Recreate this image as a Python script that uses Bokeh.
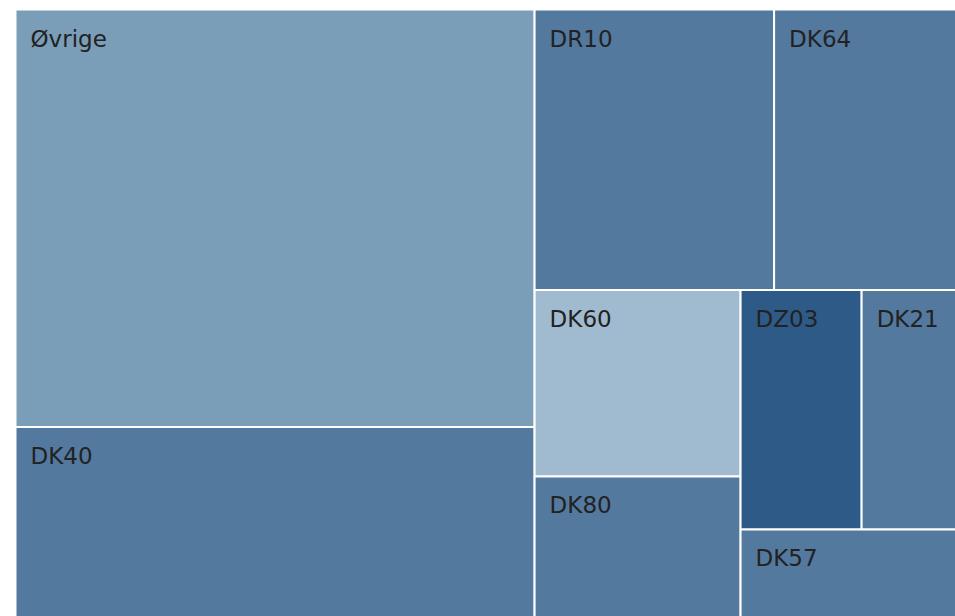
from bokeh.plotting import figure
from bokeh.models import ColumnDataSource, Range1d
from bokeh.core.properties import value
from bokeh.embed import file_html
from bokeh.resources import INLINE

# ---- data ----
categories = ["Øvrige", "DK40", "DR10", "DK64", "DK60", "DK80", "DZ03", "DK21", "DK57"]
values = [215500, 98420, 66800, 50870, 38220, 28900, 28850, 22610, 18900]
colors = ["#7a9db8", "#54799f", "#54799f", "#54799f", "#a0bbd0", "#54799f", "#2e5a87", "#54799f", "#54799f"]

W, H = 955, 616
PHI = (1 + 5 ** 0.5) / 2


def squarify(vals, x0, y0, x1, y1, ratio=PHI):
    """d3.treemapSquarify (golden ratio) layout."""
    n = len(vals)
    rects = [None] * n
    total = float(sum(vals))
    i0 = i1 = 0
    while i0 < n:
        dx, dy = x1 - x0, y1 - y0
        s = vals[i1]
        i1 += 1
        mn = mx = s
        alpha = max(dy / dx, dx / dy) / (total * ratio)
        beta = s * s * alpha
        min_ratio = max(mx / beta, beta / mn)
        while i1 < n:
            v = vals[i1]
            s += v
            mn, mx = min(mn, v), max(mx, v)
            beta = s * s * alpha
            new_ratio = max(mx / beta, beta / mn)
            if new_ratio > min_ratio:
                s -= v
                break
            min_ratio = new_ratio
            i1 += 1
        row = list(range(i0, i1))
        if dx < dy:
            ny = y0 + dy * s / total
            cx = x0
            for i in row:
                w = dx * vals[i] / s
                rects[i] = (cx, y0, cx + w, ny)
                cx += w
            y0 = ny
        else:
            nx = x0 + dx * s / total
            cy = y0
            for i in row:
                h = dy * vals[i] / s
                rects[i] = (x0, cy, nx, cy + h)
                cy += h
            x0 = nx
        total -= s
        i0 = i1
    return rects


rects = squarify(values, 15, 9, W + 1, H + 1)

src = ColumnDataSource(dict(
    name=categories,
    value=values,
    color=colors,
    left=[r[0] for r in rects],
    right=[r[2] for r in rects],
    top=[r[1] for r in rects],
    bottom=[r[3] for r in rects],
))

p = figure(width=W, height=H, output_backend="svg", toolbar_location=None,
           x_range=Range1d(0, W), y_range=Range1d(H, 0), min_border=0)
p.axis.visible = False
p.grid.visible = False
p.outline_line_color = None
p.background_fill_color = "white"
p.border_fill_color = "white"

p.quad(left="left", right="right", top="top", bottom="bottom", source=src,
       fill_color="color", line_color="white", line_width=2)

p.text(x="left", y="top", text="name", source=src, x_offset=15, y_offset=29,
       text_font=value("DejaVu Sans"), text_font_size="23px",
       text_color="#222222", text_baseline="middle", text_align="left")

open("out.html", "w").write(file_html(p, INLINE))
